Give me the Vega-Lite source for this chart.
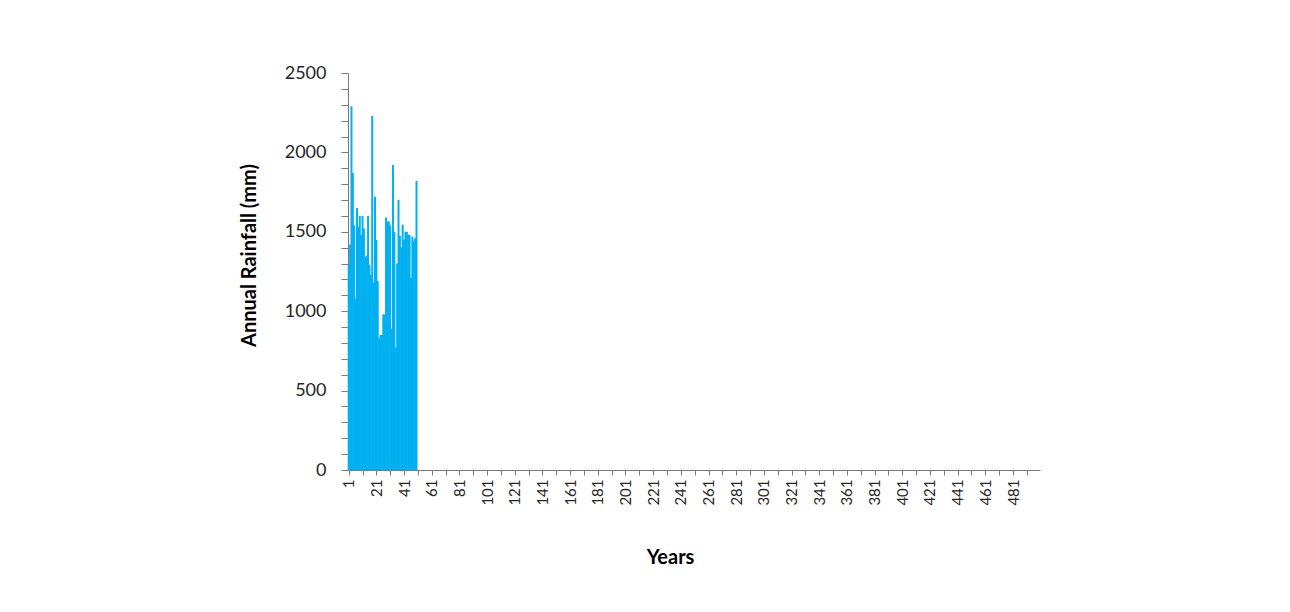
{
  "$schema": "https://vega.github.io/schema/vega-lite/v6.json",
  "width": 692,
  "height": 397,
  "autosize": {"type": "none"},
  "padding": {"left": 348, "top": 73, "right": 250, "bottom": 142},
  "background": "white",
  "config": {
    "view": {"stroke": null},
    "font": "Lato",
    "axis": {"grid": false, "domainColor": "#7a7a7a", "tickColor": "#7a7a7a", "labelColor": "#262626", "titleColor": "#000000", "titleFont": "Lato", "labelFont": "Lato"}
  },
  "data": {
    "values": [
      {"year": 1, "rainfall": 1290}, {"year": 2, "rainfall": 1420}, {"year": 3, "rainfall": 2290}, {"year": 4, "rainfall": 1870}, {"year": 5, "rainfall": 1540},
      {"year": 6, "rainfall": 1080}, {"year": 7, "rainfall": 1650}, {"year": 8, "rainfall": 1530}, {"year": 9, "rainfall": 1600}, {"year": 10, "rainfall": 1480},
      {"year": 11, "rainfall": 1600}, {"year": 12, "rainfall": 1520}, {"year": 13, "rainfall": 1340}, {"year": 14, "rainfall": 1350}, {"year": 15, "rainfall": 1600},
      {"year": 16, "rainfall": 1290}, {"year": 17, "rainfall": 1230}, {"year": 18, "rainfall": 2230}, {"year": 19, "rainfall": 1180}, {"year": 20, "rainfall": 1720},
      {"year": 21, "rainfall": 1450}, {"year": 22, "rainfall": 1190}, {"year": 23, "rainfall": 830}, {"year": 24, "rainfall": 850}, {"year": 25, "rainfall": 850},
      {"year": 26, "rainfall": 980}, {"year": 27, "rainfall": 980}, {"year": 28, "rainfall": 1590}, {"year": 29, "rainfall": 1565}, {"year": 30, "rainfall": 1565},
      {"year": 31, "rainfall": 1540}, {"year": 32, "rainfall": 890}, {"year": 33, "rainfall": 1920}, {"year": 34, "rainfall": 1500}, {"year": 35, "rainfall": 770},
      {"year": 36, "rainfall": 1300}, {"year": 37, "rainfall": 1700}, {"year": 38, "rainfall": 1475}, {"year": 39, "rainfall": 1400}, {"year": 40, "rainfall": 1545},
      {"year": 41, "rainfall": 1450}, {"year": 42, "rainfall": 1500}, {"year": 43, "rainfall": 1500}, {"year": 44, "rainfall": 1480}, {"year": 45, "rainfall": 1480},
      {"year": 46, "rainfall": 1210}, {"year": 47, "rainfall": 1470}, {"year": 48, "rainfall": 1440}, {"year": 49, "rainfall": 1460}, {"year": 50, "rainfall": 1820}
    ]
  },
  "mark": {"type": "bar", "color": "#00B0F0", "size": 2},
  "encoding": {
    "x": {
      "field": "year",
      "type": "quantitative",
      "scale": {"domain": [0.5, 500.5], "nice": false, "zero": false, "padding": 0},
      "axis": {
        "title": "Years",
        "titleFontSize": 20,
        "titleFontWeight": "bold",
        "titlePadding": 42,
        "titleX": 322,
        "values": [1, 11, 21, 31, 41, 51, 61, 71, 81, 91, 101, 111, 121, 131, 141, 151, 161, 171, 181, 191, 201, 211, 221, 231, 241, 251, 261, 271, 281, 291, 301, 311, 321, 331, 341, 351, 361, 371, 381, 391, 401, 411, 421, 431, 441, 451, 461, 471, 481, 491],
        "labelExpr": "datum.value % 20 == 1 ? datum.label : ''",
        "labelAngle": -90,
        "labelAlign": "right",
        "labelBaseline": "middle",
        "labelFontSize": 15,
        "labelPadding": 4,
        "tickSize": 5,
        "labelOverlap": false,
        "labelFlush": false
      }
    },
    "y": {
      "field": "rainfall",
      "type": "quantitative",
      "scale": {"domain": [0, 2500], "nice": false, "padding": 0},
      "axis": {
        "title": "Annual Rainfall (mm)",
        "titleFontSize": 20,
        "titleFontWeight": "bold",
        "titlePadding": 25,
        "titleY": 182,
        "values": [0, 100, 200, 300, 400, 500, 600, 700, 800, 900, 1000, 1100, 1200, 1300, 1400, 1500, 1600, 1700, 1800, 1900, 2000, 2100, 2200, 2300, 2400, 2500],
        "labelExpr": "datum.value % 500 == 0 ? datum.value : ''",
        "labelFontSize": 18,
        "labelPadding": 15,
        "tickSize": 7,
        "labelOverlap": false,
        "labelFlush": false
      }
    }
  }
}
